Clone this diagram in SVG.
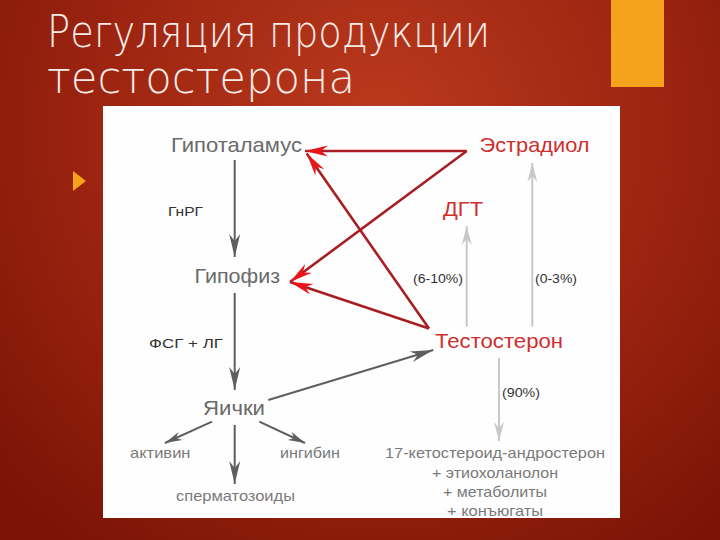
<svg xmlns="http://www.w3.org/2000/svg" width="720" height="540" viewBox="0 0 720 540">
<defs>
<radialGradient id="bg" cx="380" cy="130" r="520" gradientUnits="userSpaceOnUse">
<stop offset="0" stop-color="#bb3a1e"/>
<stop offset="0.55" stop-color="#9c2410"/>
<stop offset="1" stop-color="#7a1306"/>
</radialGradient>
<marker id="ad" markerUnits="userSpaceOnUse" markerWidth="26" markerHeight="14" refX="23" refY="6" orient="auto" viewBox="0 0 26 12">
<path d="M0,0.5 L23,6 L0,11.5 L7,6 z" fill="#5e5e5e"/>
</marker>
<marker id="as" markerUnits="userSpaceOnUse" markerWidth="20" markerHeight="12" refX="17" refY="5" orient="auto" viewBox="0 0 20 10">
<path d="M0,0.5 L17,5 L0,9.5 L5,5 z" fill="#5e5e5e"/>
</marker>
<marker id="ar" markerUnits="userSpaceOnUse" markerWidth="26" markerHeight="14" refX="23" refY="6" orient="auto" viewBox="0 0 26 12">
<path d="M0,0.5 L23,6 L0,11.5 L7,6 z" fill="#e8141a"/>
</marker>
<marker id="al" markerUnits="userSpaceOnUse" markerWidth="22" markerHeight="12" refX="19" refY="5" orient="auto" viewBox="0 0 22 10">
<path d="M0,0 L19,5 L0,10 L6,5 z" fill="#c8c8c8"/>
</marker>
</defs>
<style>
.t{font-family:"DejaVu Sans","Liberation Sans",sans-serif;font-weight:200;fill:#f6ebe6;font-size:44px}
.n{font-family:"Liberation Sans",Arial,sans-serif;fill:#6a6a6a;font-size:21px}
.r{font-family:"Liberation Sans",Arial,sans-serif;fill:#cf2e2e;font-size:21px}
.s{font-family:"Liberation Sans",Arial,sans-serif;fill:#333;font-size:13px}
.g{font-family:"Liberation Sans",Arial,sans-serif;fill:#7a7a7a;font-size:15px}
.cd{stroke:#5e5e5e;stroke-width:2;fill:none}
.cr{stroke:#a81e22;stroke-width:2.6;fill:none}
.cl{stroke:#c8c8c8;stroke-width:2;fill:none}
</style>
<rect width="720" height="540" fill="url(#bg)"/>
<rect x="611" y="0" width="53" height="87" fill="#f5a21c"/>
<g id="title">
<text class="t" x="47" y="47" textLength="443" lengthAdjust="spacingAndGlyphs">Регуляция продукции</text>
<text class="t" x="47" y="93" textLength="308" lengthAdjust="spacingAndGlyphs">тестостерона</text>
</g>
<path d="M73,171 L86,181 L73,191 z" fill="#f5a21c"/>
<rect x="103" y="106" width="517" height="412" fill="#fefefe"/>
<g id="connectors">
<line class="cd" x1="234.7" y1="160" x2="234.7" y2="257" marker-end="url(#ad)"/>
<line class="cd" x1="234.7" y1="293" x2="234.7" y2="390" marker-end="url(#ad)"/>
<line class="cd" x1="234.7" y1="425" x2="234.7" y2="484" marker-end="url(#ad)"/>
<line class="cd" x1="212" y1="421.7" x2="165" y2="443" marker-end="url(#as)"/>
<line class="cd" x1="259.3" y1="421.7" x2="305" y2="443" marker-end="url(#as)"/>
<line class="cd" x1="268.3" y1="400" x2="433.3" y2="350" marker-end="url(#ad)"/>
<line class="cr" x1="466.7" y1="151" x2="305" y2="151" marker-end="url(#ar)"/>
<line class="cr" x1="466.7" y1="151" x2="290" y2="282" marker-end="url(#ar)"/>
<line class="cr" x1="429" y1="328.5" x2="306.7" y2="153.5" marker-end="url(#ar)"/>
<line class="cr" x1="429" y1="328.5" x2="290" y2="282" marker-end="url(#ar)"/>
<line class="cl" x1="466.7" y1="326.7" x2="466.7" y2="226" marker-end="url(#al)"/>
<line class="cl" x1="532.3" y1="326.7" x2="532.3" y2="163" marker-end="url(#al)"/>
<line class="cl" x1="499" y1="358" x2="499" y2="441" marker-end="url(#al)"/>
</g>
<g id="hypothalamus"><text class="n" x="171" y="152" textLength="131" lengthAdjust="spacingAndGlyphs">Гипоталамус</text></g>
<g id="estradiol"><text class="r" x="479.5" y="152" textLength="110" lengthAdjust="spacingAndGlyphs">Эстрадиол</text></g>
<g id="dht"><text class="r" x="443" y="216" textLength="40" lengthAdjust="spacingAndGlyphs">ДГТ</text></g>
<g id="pituitary"><text class="n" x="194.5" y="283" textLength="85.5" lengthAdjust="spacingAndGlyphs">Гипофиз</text></g>
<g id="testosterone"><text class="r" x="435" y="348" textLength="128" lengthAdjust="spacingAndGlyphs">Тестостерон</text></g>
<g id="testes"><text class="n" x="203" y="415" textLength="62" lengthAdjust="spacingAndGlyphs">Яички</text></g>
<g id="activin"><text class="g" x="130" y="458" textLength="60.5" lengthAdjust="spacingAndGlyphs">активин</text></g>
<g id="inhibin"><text class="g" x="280" y="458" textLength="60" lengthAdjust="spacingAndGlyphs">ингибин</text></g>
<g id="sperm"><text class="g" x="176" y="501" textLength="119" lengthAdjust="spacingAndGlyphs">сперматозоиды</text></g>
<g id="metabolites">
<text class="g" x="385" y="458" textLength="220" lengthAdjust="spacingAndGlyphs">17-кетостероид-андростерон</text>
<text class="g" x="432" y="478" textLength="126" lengthAdjust="spacingAndGlyphs">+ этиохоланолон</text>
<text class="g" x="443" y="497" textLength="104" lengthAdjust="spacingAndGlyphs">+ метаболиты</text>
<text class="g" x="447" y="516" textLength="96" lengthAdjust="spacingAndGlyphs">+ конъюгаты</text>
</g>
<g id="labels">
<text class="s" x="168" y="216" textLength="35" lengthAdjust="spacingAndGlyphs">ГнРГ</text>
<text class="s" x="149" y="348" textLength="74" lengthAdjust="spacingAndGlyphs">ФСГ + ЛГ</text>
<text class="s" x="413" y="283" textLength="50" lengthAdjust="spacingAndGlyphs">(6-10%)</text>
<text class="s" x="535" y="283" textLength="42" lengthAdjust="spacingAndGlyphs">(0-3%)</text>
<text class="s" x="502" y="397" textLength="38" lengthAdjust="spacingAndGlyphs">(90%)</text>
</g>
</svg>
